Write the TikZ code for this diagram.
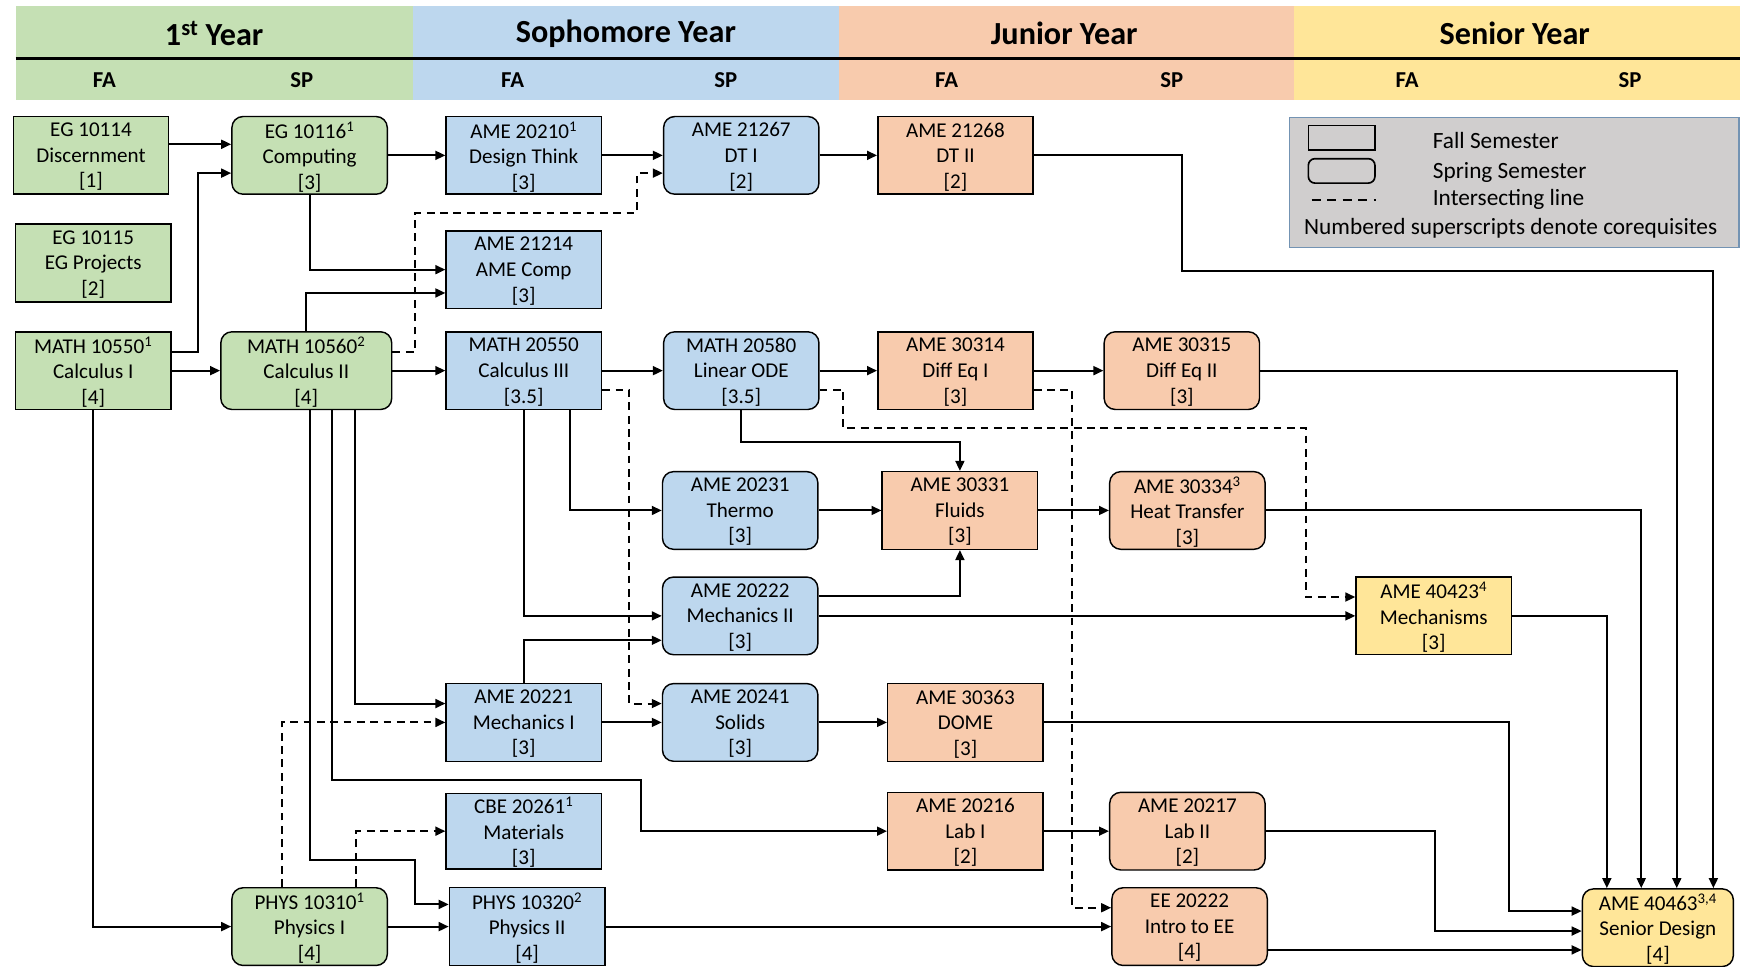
\documentclass[tikz,border=0pt]{standalone}
\usepackage{fontspec}
\setmainfont{Carlito}
\usetikzlibrary{arrows.meta}
\definecolor{gr}{HTML}{C5E0B4}
\definecolor{bl}{HTML}{BDD7EE}
\definecolor{orng}{HTML}{F8CBAD}
\definecolor{yl}{HTML}{FFE699}
\definecolor{lgfill}{HTML}{D0CECE}
\definecolor{lgedge}{HTML}{7393B3}
\newcommand{\nodefnt}{\fontsize{19}{23}\selectfont}
\newcommand{\legfnt}{\fontsize{21}{24}\selectfont}
\newcommand{\yearfnt}{\bfseries\fontsize{29}{31}\selectfont}
\newcommand{\semfnt}{\bfseries\fontsize{20.5}{22}\selectfont}
\tikzset{
  box/.style={draw=black, line width=1.3pt, minimum width=140pt, minimum height=70pt,
    inner sep=0pt, align=center, font=\nodefnt, text depth=0pt},
  fallbox/.style={box},
  sprbox/.style={box, rounded corners=10pt},
  arr/.style={line width=1.8pt, -{Triangle[length=9pt,width=8pt]}},
  dsh/.style={arr, dash pattern=on 7pt off 5pt},
  yearlbl/.style={font=\yearfnt, inner sep=0pt},
  semlbl/.style={font=\semfnt, inner sep=0pt},
  lgtext/.style={font=\legfnt, inner sep=0pt, anchor=base west},
}
\begin{document}
\begin{tikzpicture}[x=1pt,y=-1pt]
\useasboundingbox (0,0) rectangle (1568,871);
\fill[white] (0,0) rectangle (1568,871);
% header bands
\fill[gr] (14,5) rectangle (372,90);
\fill[bl] (372,5) rectangle (756,90);
\fill[orng] (756,5) rectangle (1166,90);
\fill[yl] (1166,5) rectangle (1568,90);
\draw[line width=2.4pt] (14,52.5) -- (1568,52.5);
\node[yearlbl] (h1) at (193,30) {1\textsuperscript{st} Year};
\node[yearlbl] (h2) at (564,30) {Sophomore Year};
\node[yearlbl] (h3) at (959,30) {Junior Year};
\node[yearlbl] (h4) at (1365,30) {Senior Year};
\node[semlbl] (s1) at (94,72) {FA};
\node[semlbl] (s2) at (272,72) {SP};
\node[semlbl] (s3) at (462,72) {FA};
\node[semlbl] (s4) at (654,72) {SP};
\node[semlbl] (s5) at (853,72) {FA};
\node[semlbl] (s6) at (1056,72) {SP};
\node[semlbl] (s7) at (1268,72) {FA};
\node[semlbl] (s8) at (1469,72) {SP};
% legend
\node[draw=lgedge, fill=lgfill, line width=1.3pt, minimum width=405pt, minimum height=117pt, inner sep=0pt] (legend) at (1364.5,164.5) {};
\node[draw=black, line width=1.5pt, minimum width=60pt, minimum height=22pt, inner sep=0pt] (lgfall) at (1209,124) {};
\node[draw=black, line width=1.5pt, rounded corners=6pt, minimum width=60pt, minimum height=22pt, inner sep=0pt] (lgspr) at (1209,154) {};
\coordinate (lgd1) at (1182,180);
\coordinate (lgd2) at (1240,180);
\draw[line width=1.8pt, dash pattern=on 8pt off 6pt] (lgd1) -- (lgd2);
\node[lgtext] (lt1) at (1291,134) {Fall Semester};
\node[lgtext] (lt2) at (1291,160.5) {Spring Semester};
\node[lgtext] (lt3) at (1291,185.5) {Intersecting line};
\node[lgtext] (lt4) at (1175,211) {Numbered superscripts denote corequisites};
% nodes
\node[fallbox,fill=gr] (eg1) at (82,140) {EG 10114\\Discernment\\{[1]}};
\node[sprbox,fill=gr] (eg3) at (279,140) {EG 10116\textsuperscript{1}\\Computing\\{[3]}};
\node[fallbox,fill=bl] (dtk) at (472,140) {AME 20210\textsuperscript{1}\\Design Think\\{[3]}};
\node[sprbox,fill=bl] (dt1) at (668,140) {AME 21267\\DT I\\{[2]}};
\node[fallbox,fill=orng] (dt2) at (861,140) {AME 21268\\DT II\\{[2]}};
\node[fallbox,fill=gr] (eg2) at (84,237) {EG 10115\\EG Projects\\{[2]}};
\node[fallbox,fill=bl] (comp) at (472,243) {AME 21214\\AME Comp\\{[3]}};
\node[fallbox,fill=gr] (m1) at (84,334) {MATH 10550\textsuperscript{1}\\Calculus I\\{[4]}};
\node[sprbox,fill=gr,minimum width=154pt] (m2) at (276,334) {MATH 10560\textsuperscript{2}\\Calculus II\\{[4]}};
\node[fallbox,fill=bl] (m3) at (472,334) {MATH 20550\\Calculus III\\{[3.5]}};
\node[sprbox,fill=bl] (m4) at (668,334) {MATH 20580\\Linear ODE\\{[3.5]}};
\node[fallbox,fill=orng] (d1) at (861,334) {AME 30314\\Diff Eq I\\{[3]}};
\node[sprbox,fill=orng] (d2) at (1065,334) {AME 30315\\Diff Eq II\\{[3]}};
\node[sprbox,fill=bl] (th) at (667,460) {AME 20231\\Thermo\\{[3]}};
\node[fallbox,fill=orng] (fl) at (865,460) {AME 30331\\Fluids\\{[3]}};
\node[sprbox,fill=orng] (ht) at (1070,460) {AME 30334\textsuperscript{3}\\Heat Transfer\\{[3]}};
\node[sprbox,fill=bl] (mc2) at (667,555) {AME 20222\\Mechanics II\\{[3]}};
\node[fallbox,fill=yl] (mech) at (1292,555) {AME 40423\textsuperscript{4}\\Mechanisms\\{[3]}};
\node[fallbox,fill=bl] (mc1) at (472,651) {AME 20221\\Mechanics I\\{[3]}};
\node[sprbox,fill=bl] (so) at (667,651) {AME 20241\\Solids\\{[3]}};
\node[fallbox,fill=orng] (dome) at (870,651) {AME 30363\\DOME\\{[3]}};
\node[fallbox,fill=bl,minimum height=68pt] (mat) at (472,749) {CBE 20261\textsuperscript{1}\\Materials\\{[3]}};
\node[fallbox,fill=orng] (lab1) at (870,749) {AME 20216\\Lab I\\{[2]}};
\node[sprbox,fill=orng] (lab2) at (1070,749) {AME 20217\\Lab II\\{[2]}};
\node[sprbox,fill=gr] (p1) at (279,835) {PHYS 10310\textsuperscript{1}\\Physics I\\{[4]}};
\node[fallbox,fill=bl] (p2) at (475,835) {PHYS 10320\textsuperscript{2}\\Physics II\\{[4]}};
\node[sprbox,fill=orng] (ee) at (1072,835) {EE 20222\\Intro to EE\\{[4]}};
\node[sprbox,fill=yl,minimum width=136pt] (sd) at (1494,836) {AME 40463\textsuperscript{3,4}\\Senior Design\\{[4]}};
% connectors
\draw[arr] (eg1.east |- 0,130) -- (eg3.west |- 0,130);
\draw[arr] (m1.east |- 0,317) -- (178,317) |- (eg3.west |- 0,156);
\draw[arr] (m1.east) -- (m2.west);
\draw[arr] (eg3.east) -- (dtk.west);
\draw[arr] (eg3.south) |- (comp.west);
\draw[arr] (m2.north) |- (comp.west |- 0,264);
\draw[dsh] (m2.east |- 0,317) -- (374,317) -- (374,192) -- (574,192) |- (dt1.west |- 0,156);
\draw[arr] (dtk.east) -- (dt1.west);
\draw[arr] (dt1.east) -- (dt2.west);
\draw[arr] (dt2.east) -- (1065,140) -- (1065,244) -- (1544,244) -- (sd.north -| 1544,0);
\draw[arr] (m2.east) -- (m3.west);
\draw[arr] (m3.east) -- (m4.west);
\draw[dsh] (m3.east |- 0,351) -- (567,351) |- (so.west |- 0,634);
\draw[arr] (m4.east) -- (d1.west);
\draw[dsh] (m4.east |- 0,351) -- (760,351) -- (760,386) -- (1177,386) |- (mech.west |- 0,538);
\draw[arr] (m4.south) -- (668,398) -| (fl.north);
\draw[arr] (d1.east) -- (d2.west);
\draw[dsh] (d1.east |- 0,351) -- (966,351) |- (ee.west |- 0,818);
\draw[arr] (d2.east) -| (sd.north -| 1511,0);
\draw[arr] (m3.south -| 514,0) |- (th.west);
\draw[arr] (m3.south) |- (mc2.west);
\draw[arr] (th.east) -- (fl.west);
\draw[arr] (fl.east) -- (ht.west);
\draw[arr] (ht.east) -| (sd.north -| 1479,0);
\draw[arr] (mc2.east |- 0,537) -| (fl.south);
\draw[arr] (mc2.east) -- (mech.west);
\draw[arr] (mech.east) -| (sd.north -| 1448,0);
\draw[arr] (mc1.north) |- (mc2.west |- 0,577);
\draw[arr] (m2.south -| 320,0) |- (mc1.west |- 0,634);
\draw[dsh] (p1.north -| 254,0) |- (mc1.west);
\draw[arr] (mc1.east) -- (so.west);
\draw[arr] (so.east) -- (dome.west);
\draw[arr] (dome.east) -- (1360,651) |- (sd.west |- 0,821);
\draw[arr] (m2.south -| 299,0) -- (299,703) -- (578,703) |- (lab1.west);
\draw[arr] (m2.south -| 279,0) -- (279,775) -- (374,775) |- (p2.west |- 0,815);
\draw[dsh] (p1.north -| 321,0) |- (mat.west);
\draw[arr] (m1.south) |- (p1.west);
\draw[arr] (p1.east) -- (p2.west);
\draw[arr] (lab1.east) -- (lab2.west);
\draw[arr] (lab2.east) -- (1293,749) |- (sd.west |- 0,839);
\draw[arr] (p2.east) -- (ee.west);
\draw[arr] (ee.east |- 0,856) -- (sd.west |- 0,856);
\end{tikzpicture}
\end{document}
